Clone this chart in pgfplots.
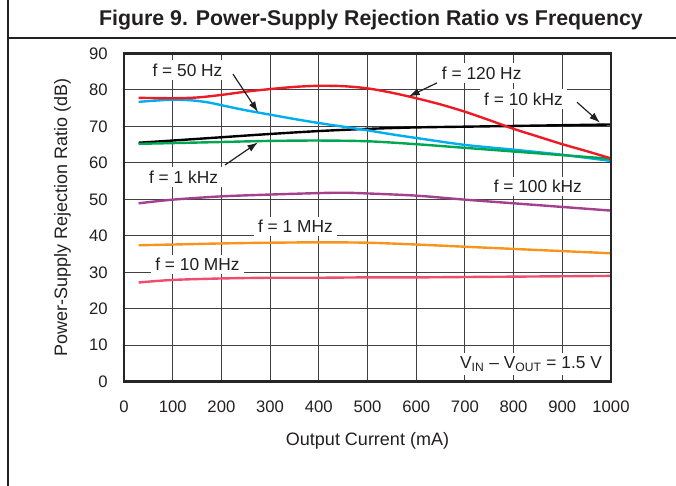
\documentclass[border=0pt]{standalone}
\usepackage{fontspec}
\setmainfont{Liberation Sans}
\usepackage{pgfplots}
\pgfplotsset{compat=1.18}
\usetikzlibrary{arrows.meta}
\definecolor{txt}{HTML}{231F20}
\definecolor{cred}{HTML}{ED1C24}
\definecolor{cblue}{HTML}{00AEEF}
\definecolor{cgreen}{HTML}{00A651}
\definecolor{cpurple}{HTML}{A3418F}
\definecolor{corange}{HTML}{F7941D}
\definecolor{cpink}{HTML}{EE4D6F}
\tikzset{
  anno/.style={fill=white, inner xsep=3pt, inner ysep=2.5pt, font=\fontsize{13}{15}\selectfont, text=txt, anchor=base},
  arr/.style={line width=0.9pt, txt, -{Latex[length=8pt,width=5.5pt]}},
}
\begin{document}
\begin{tikzpicture}
\path[use as bounding box] (-93pt,-78.2pt) rectangle (414pt,286.3pt);
\draw[line width=0.9pt, txt] (-87pt,-80pt) -- (-87pt,290pt);
\draw[line width=0.9pt, txt] (-87pt,257.8pt) -- (416pt,257.8pt);
\node[font=\fontsize{16}{19}\bfseries\selectfont, anchor=base, text=txt] at (185.25pt,266.8pt) {Figure 9. Power-Supply Rejection Ratio vs Frequency};
\begin{axis}[
  at={(0,0)}, anchor=south west, scale only axis,
  width=365.25pt, height=246.3pt,
  xmin=0, xmax=1000, ymin=0, ymax=90,
  xtick={0,100,...,1000}, ytick={0,10,...,90},
  grid=major, major grid style={line width=0.8pt, black!75},
  axis line style={line width=2pt, black!85},
  major tick length=0pt,
  tick label style={font=\fontsize{12.5}{15}\selectfont, text=txt},
  /pgf/number format/assume math mode=true,
  /pgf/number format/1000 sep={},
  xticklabel style={anchor=base, yshift=-23pt},
  yticklabel style={anchor=east, inner sep=0pt, xshift=-12pt},
  xlabel={Output Current (mA)},
  ylabel={Power-Supply Rejection Ratio (dB)},
  label style={font=\fontsize{13.5}{16}\selectfont, text=txt},
  xlabel style={at={(axis description cs:0.5,0)}, anchor=base, yshift=-47.5pt},
  ylabel style={at={(axis description cs:-0.117,0.5)}, anchor=base},
  every axis plot/.append style={line width=1.8pt, smooth, no markers},
  clip=false,
]
% f = 10 MHz
\addplot[cpink] coordinates {(30,27.2) (100,27.9) (200,28.3) (300,28.5) (400,28.5) (500,28.6) (600,28.6) (700,28.7) (800,28.8) (900,28.9) (1000,29.0)};
% f = 1 MHz
\addplot[corange] coordinates {(30,37.4) (100,37.6) (200,37.9) (300,38.1) (400,38.2) (500,38.1) (600,37.6) (700,37.0) (800,36.4) (900,35.8) (1000,35.2)};
% f = 100 kHz
\addplot[cpurple] coordinates {(30,48.9) (100,49.9) (200,50.8) (300,51.3) (400,51.7) (450,51.8) (500,51.6) (600,51.0) (700,49.9) (800,48.9) (900,47.9) (1000,46.9)};
% f = 10 kHz
\addplot[black] coordinates {(30,65.5) (100,66.1) (200,67.0) (300,67.9) (400,68.7) (500,69.3) (600,69.7) (700,69.9) (800,70.1) (900,70.3) (1000,70.5)};
% f = 50 Hz
\addplot[cblue] coordinates {(30,76.7) (60,77.0) (100,77.3) (140,77.1) (175,76.5) (210,75.5) (250,74.4) (300,73.2) (350,72.0) (400,70.9) (450,69.9) (500,68.9) (550,67.8) (600,66.8) (700,64.9) (800,63.6) (900,62.2) (1000,60.5)};
% f = 1 kHz
\addplot[cgreen] coordinates {(30,65.2) (100,65.4) (200,65.7) (300,66.0) (400,66.1) (500,65.9) (600,65.1) (700,64.1) (800,63.1) (900,62.1) (1000,61.1)};
% f = 120 Hz
\addplot[cred] coordinates {(30,77.8) (100,77.7) (150,77.9) (200,78.6) (250,79.5) (300,80.2) (350,80.8) (400,81.1) (450,81.0) (500,80.4) (550,79.2) (600,77.7) (650,76.0) (700,74.0) (750,71.7) (800,69.3) (850,67.2) (900,65.1) (950,63.2) (1000,61.2)};
\draw[line width=2pt, black!85] (rel axis cs:0,0) rectangle (rel axis cs:1,1);
\node[anno] at (axis cs:130.4,83.75) {f = 50 Hz};
\draw[arr] (axis cs:223.8,84.3) -- (axis cs:275.2,73.9);
\node[anno] at (axis cs:122.2,54.4) {f = 1 kHz};
\draw[arr] (axis cs:207.4,59.4) -- (axis cs:275.2,65.6);
\node[anno] at (axis cs:734.5,82.9) {f = 120 Hz};
\draw[arr] (axis cs:642.7,81.9) -- (axis cs:585.2,78.2);
\node[anno] at (axis cs:820.3,75.8) {f = 10 kHz};
\draw[arr] (axis cs:930.2,76.6) -- (axis cs:977.4,71.0);
\node[anno] at (axis cs:849.8,51.8) {f = 100 kHz};
\node[anno] at (axis cs:352,40.8) {f = 1 MHz};
\node[anno] at (axis cs:150.9,30.4) {f = 10 MHz};
\node[anno, anchor=base east] at (axis cs:990,3.67) {V\textsubscript{IN} – V\textsubscript{OUT} = 1.5 V};
\end{axis}
\end{tikzpicture}
\end{document}
